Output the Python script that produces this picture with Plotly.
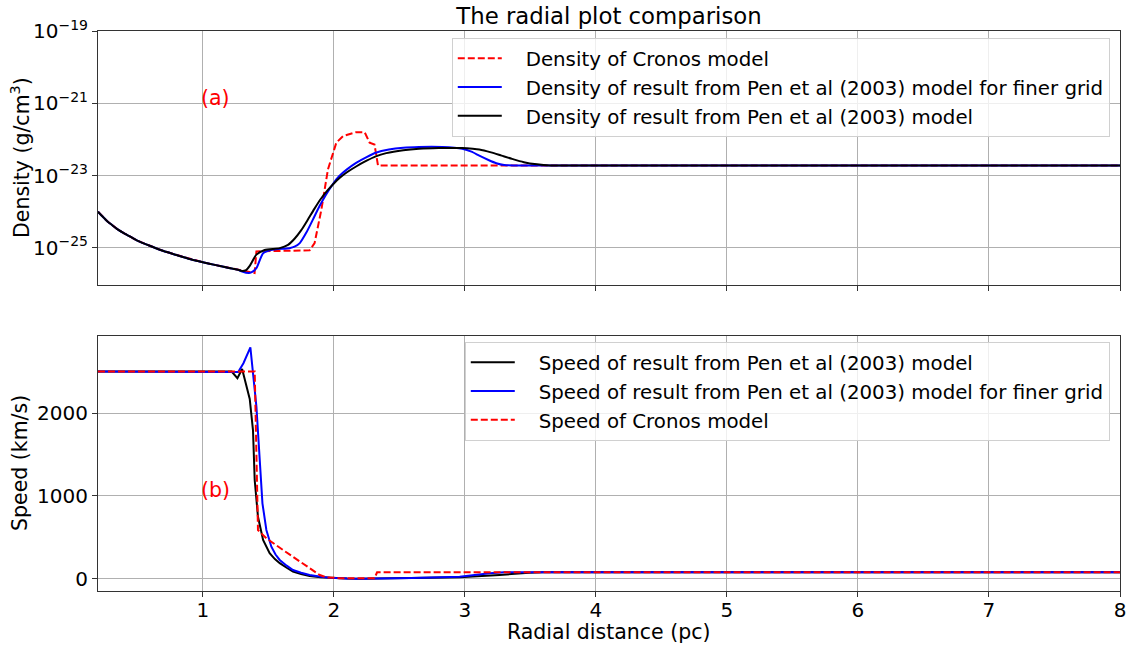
import numpy as np
import plotly.graph_objects as go

# ---------------- data ----------------
# Density panel: radial distance (pc) and log10 density (g/cm^3)
r_dens_black = [0.2, 0.225, 0.25, 0.275, 0.3, 0.35, 0.4, 0.45, 0.5, 0.6, 0.7, 0.8, 0.9, 1.0,
                1.1, 1.2, 1.27, 1.3, 1.33, 1.358, 1.409, 1.472, 1.587, 1.65, 1.70, 1.75, 1.80,
                1.85, 1.90, 1.95, 2.00, 2.05, 2.10, 2.17, 2.25, 2.32, 2.40, 2.53, 2.65, 2.80,
                2.98, 3.06, 3.11, 3.20, 3.28, 3.36, 3.45, 3.55, 3.65, 3.75, 8.0]
logd_black = [-24.00, -24.10, -24.19, -24.28, -24.35, -24.49, -24.60, -24.70, -24.80, -24.95,
              -25.09, -25.20, -25.31, -25.40, -25.48, -25.56, -25.61, -25.64, -25.62, -25.50,
              -25.19, -25.06, -25.01, -24.92, -24.75, -24.52, -24.23, -23.93, -23.65, -23.42,
              -23.22, -23.05, -22.91, -22.75, -22.59, -22.47, -22.38, -22.30, -22.26, -22.24,
              -22.24, -22.26, -22.28, -22.36, -22.45, -22.54, -22.63, -22.69, -22.72, -22.72,
              -22.72]

r_dens_blue = [0.2, 0.225, 0.25, 0.275, 0.3, 0.35, 0.4, 0.45, 0.5, 0.6, 0.7, 0.8, 0.9, 1.0,
               1.1, 1.2, 1.27, 1.30, 1.353, 1.38, 1.41, 1.46, 1.52, 1.66, 1.70, 1.74, 1.79,
               1.84, 1.89, 1.94, 1.99, 2.04, 2.10, 2.17, 2.25, 2.32, 2.42, 2.53, 2.65, 2.83,
               2.92, 2.98, 3.05, 3.11, 3.18, 3.24, 3.30, 3.38, 8.0]
logd_blue = [-24.00, -24.10, -24.19, -24.28, -24.35, -24.49, -24.60, -24.70, -24.80, -24.95,
             -25.09, -25.20, -25.31, -25.40, -25.48, -25.56, -25.61, -25.66, -25.70, -25.66,
             -25.56, -25.15, -25.06, -25.01, -24.97, -24.87, -24.58, -24.22, -23.85, -23.53,
             -23.25, -23.02, -22.83, -22.65, -22.49, -22.37, -22.28, -22.23, -22.21, -22.21,
             -22.23, -22.26, -22.34, -22.45, -22.57, -22.66, -22.71, -22.72, -22.72]

r_dens_red = [0.2, 0.225, 0.25, 0.275, 0.3, 0.35, 0.4, 0.45, 0.5, 0.6, 0.7, 0.8, 0.9, 1.0,
              1.1, 1.2, 1.27, 1.3, 1.383, 1.395, 1.409, 1.815, 1.853, 1.905, 1.955, 2.019,
              2.07, 2.17, 2.235, 2.273, 2.31, 2.337, 8.0]
logd_red = [-24.00, -24.10, -24.19, -24.28, -24.35, -24.49, -24.60, -24.70, -24.80, -24.95,
            -25.09, -25.20, -25.31, -25.40, -25.48, -25.56, -25.61, -25.64, -25.70, -25.70,
            -25.10, -25.07, -24.87, -23.94, -22.83, -22.09, -21.91, -21.80, -21.80, -22.09,
            -22.14, -22.72, -22.72]

# Speed panel: radial distance (pc) and speed (km/s)
r_speed_black = [0.2, 1.22, 1.264, 1.30, 1.358, 1.383, 1.396, 1.421, 1.46, 1.51, 1.55, 1.587,
                 1.64, 1.688, 1.75, 1.815, 1.90, 1.968, 2.1, 2.2, 2.6, 2.96, 3.265, 3.49, 3.6,
                 8.0]
v_black = [2500, 2500, 2420, 2530, 2170, 1790, 1190, 750, 470, 310, 240, 190, 135, 90, 60, 36,
           20, 12, 5, 3, 8, 20, 48, 76, 80, 80]

r_speed_blue = [0.2, 1.27, 1.31, 1.363, 1.409, 1.434, 1.455, 1.485, 1.523, 1.555, 1.587, 1.64,
                1.688, 1.75, 1.815, 1.90, 1.968, 2.1, 2.2, 2.6, 2.96, 3.19, 3.3, 8.0]
v_blue = [2500, 2495, 2600, 2790, 2076, 1394, 912, 590, 389, 295, 229, 160, 108, 75, 48, 27,
          16, 6, 3, 12, 28, 68, 80, 80]

r_speed_red = [0.2, 1.396, 1.421, 1.485, 1.612, 1.739, 1.892, 1.943, 2.04, 2.31, 2.33, 8.0]
v_red = [2500, 2500, 590, 490, 349, 209, 48, 20, 10, 8, 80, 80]

x_ticks = [1, 2, 3, 4, 5, 6, 7, 8]
dens_tick_exp = [-25, -23, -21, -19]
speed_ticks = [0, 1000, 2000]

# ---------------- figure ----------------
FONT = "DejaVu Sans"
RED = "#ff0000"
BLUE = "#0000ff"
BLACK = "#000000"
GRID = "#b0b0b0"
TICK_SIZE = 20
TEXT_SIZE = 20.5
LEG_SIZE = 19.8
PAD = "\u00a0\u00a0\u00a0"

# plot-area geometry in pixels (used to place titles)
PLOT_LEFT, PLOT_RIGHT, PLOT_TOP, PLOT_BOTTOM = 98, 1120, 31, 591


def paper_x(px):
    return (px - PLOT_LEFT) / (PLOT_RIGHT - PLOT_LEFT)


def paper_y(px):
    return (PLOT_BOTTOM - px) / (PLOT_BOTTOM - PLOT_TOP)


fig = go.Figure()

fig.add_trace(go.Scatter(x=r_dens_red, y=np.power(10.0, logd_red), mode="lines",
                         line=dict(color=RED, width=2, dash="7px,3px"),
                         name=PAD + "Density of Cronos model", xaxis="x", yaxis="y",
                         legend="legend"))
fig.add_trace(go.Scatter(x=r_dens_blue, y=np.power(10.0, logd_blue), mode="lines",
                         line=dict(color=BLUE, width=2, shape="spline", smoothing=0.6),
                         name=PAD + "Density of result from Pen et al (2003) model for finer grid",
                         xaxis="x", yaxis="y", legend="legend"))
fig.add_trace(go.Scatter(x=r_dens_black, y=np.power(10.0, logd_black), mode="lines",
                         line=dict(color=BLACK, width=2, shape="spline", smoothing=0.6),
                         name=PAD + "Density of result from Pen et al (2003) model",
                         xaxis="x", yaxis="y", legend="legend"))

fig.add_trace(go.Scatter(x=r_speed_black, y=v_black, mode="lines",
                         line=dict(color=BLACK, width=2),
                         name=PAD + "Speed of result from Pen et al (2003) model",
                         xaxis="x2", yaxis="y2", legend="legend2"))
fig.add_trace(go.Scatter(x=r_speed_blue, y=v_blue, mode="lines",
                         line=dict(color=BLUE, width=2),
                         name=PAD + "Speed of result from Pen et al (2003) model for finer grid",
                         xaxis="x2", yaxis="y2", legend="legend2"))
fig.add_trace(go.Scatter(x=r_speed_red, y=v_red, mode="lines",
                         line=dict(color=RED, width=2, dash="7px,3px"),
                         name=PAD + "Speed of Cronos model",
                         xaxis="x2", yaxis="y2", legend="legend2"))

axis_common = dict(showline=True, linecolor="#333333", linewidth=1, mirror=True,
                   ticks="outside", ticklen=5, tickcolor="#333333", showgrid=True,
                   gridcolor=GRID, gridwidth=1, zeroline=False, automargin=False,
                   tickfont=dict(family=FONT, size=TICK_SIZE, color="black"))

legend_common = dict(bgcolor="rgba(255,255,255,0.8)", bordercolor="#d0d0d0", borderwidth=1,
                     font=dict(family=FONT, size=LEG_SIZE, color="black"), itemwidth=44,
                     xanchor="right", yanchor="top", tracegroupgap=0)

fig.update_layout(
    width=1133, height=646,
    margin=dict(l=PLOT_LEFT, r=1133 - PLOT_RIGHT, t=PLOT_TOP, b=646 - PLOT_BOTTOM),
    plot_bgcolor="white", paper_bgcolor="white",
    font=dict(family=FONT, size=TEXT_SIZE, color="black"),
    title=dict(text="The radial plot comparison", x=609 / 1133, xanchor="center",
               y=1 - 16 / 646, yanchor="middle", yref="container",
               font=dict(family=FONT, size=22.8, color="black")),
    xaxis=dict(domain=[0, 1], anchor="y", range=[0.2, 8], tickvals=x_ticks,
               showticklabels=False, matches="x2", **axis_common),
    yaxis=dict(domain=[paper_y(285), 1], anchor="x", type="log", range=[-26.03, -19],
               tickvals=[10.0 ** e for e in dens_tick_exp],
               ticktext=["10<sup>\u2212%d</sup>" % (-e) for e in dens_tick_exp],
               **axis_common),
    xaxis2=dict(domain=[0, 1], anchor="y2", range=[0.2, 8], tickvals=x_ticks,
                ticklabelstandoff=-4, **axis_common),
    yaxis2=dict(domain=[0, paper_y(336)], anchor="x2", range=[-145, 2928],
                tickvals=speed_ticks, **axis_common),
    legend=dict(x=0.99, y=paper_y(38), **legend_common),
    legend2=dict(x=0.99, y=paper_y(342), **legend_common),
    showlegend=True,
)

fig.add_annotation(x=paper_x(609), y=paper_y(632), xref="paper", yref="paper",
                   text="Radial distance (pc)", showarrow=False, yanchor="middle",
                   font=dict(family=FONT, size=TEXT_SIZE, color="black"))
fig.add_annotation(x=paper_x(20), y=paper_y(158), xref="paper", yref="paper",
                   text="Density (g/cm<sup>3</sup>)", showarrow=False, textangle=-90,
                   xanchor="center", yanchor="middle",
                   font=dict(family=FONT, size=TEXT_SIZE, color="black"))
fig.add_annotation(x=paper_x(20), y=paper_y(463), xref="paper", yref="paper",
                   text="Speed (km/s)", showarrow=False, textangle=-90,
                   xanchor="center", yanchor="middle",
                   font=dict(family=FONT, size=TEXT_SIZE, color="black"))

fig.add_annotation(x=1.1, y=-20.86, xref="x", yref="y", text="(a)", showarrow=False,
                   font=dict(family=FONT, size=TEXT_SIZE, color=RED))
fig.add_annotation(x=1.1, y=1072, xref="x2", yref="y2", text="(b)", showarrow=False,
                   font=dict(family=FONT, size=TEXT_SIZE, color=RED))

fig.write_html("out.html")
